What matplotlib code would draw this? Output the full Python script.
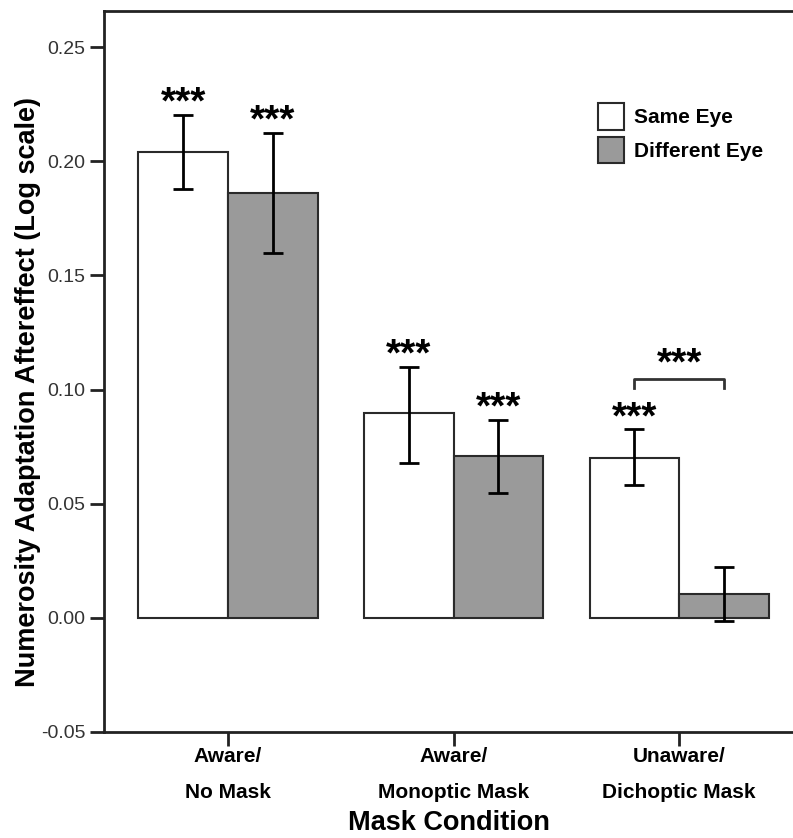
import matplotlib
matplotlib.use("Agg")
from matplotlib import pyplot as plt
from matplotlib.patches import Patch
import numpy as np

# data
conditions = ["Aware/\nNo Mask", "Aware/\nMonoptic Mask", "Unaware/\nDichoptic Mask"]
same_eye = [0.204, 0.0895, 0.0702]
same_lo = [0.1877, 0.0680, 0.0583]
same_hi = [0.2202, 0.1100, 0.0825]
diff_eye = [0.186, 0.0711, 0.0105]
diff_lo = [0.1597, 0.0548, -0.0013]
diff_hi = [0.2123, 0.0868, 0.0224]
same_stars = ["***", "***", "***"]
diff_stars = ["***", "***", ""]
y_ticks = [-0.05, 0.0, 0.05, 0.10, 0.15, 0.20, 0.25]
bracket_y = 0.1048

bold_font = ["Liberation Sans Narrow", "Liberation Sans", "DejaVu Sans"]
plain_font = ["Liberation Sans", "DejaVu Sans"]

fig = plt.figure(figsize=(7.93, 8.38), dpi=100, facecolor="white")
ax = fig.add_axes([0.1311, 0.1265, 0.8689, 0.8604])

x = np.arange(len(conditions))
w = 0.397
gray = "#9a9a9a"
edge = "#2a2a2a"

ax.bar(x - w / 2, same_eye, w, color="white", edgecolor=edge, linewidth=1.5, zorder=2)
ax.bar(x + w / 2, diff_eye, w, color=gray, edgecolor=edge, linewidth=1.5, zorder=2)

s = np.array(same_eye)
d = np.array(diff_eye)
ax.errorbar(x - w / 2, s, yerr=[s - np.array(same_lo), np.array(same_hi) - s],
            fmt="none", ecolor="black", elinewidth=2, capsize=7, capthick=2, zorder=3)
ax.errorbar(x + w / 2, d, yerr=[d - np.array(diff_lo), np.array(diff_hi) - d],
            fmt="none", ecolor="black", elinewidth=2, capsize=7, capthick=2, zorder=3)

star_kw = dict(ha="center", va="bottom", fontsize=28, fontweight="bold", family=plain_font)
for i in range(len(conditions)):
    ax.text(x[i] - w / 2, same_hi[i] - 0.003, same_stars[i], **star_kw)
    if diff_stars[i]:
        ax.text(x[i] + w / 2, diff_hi[i] - 0.003, diff_stars[i], **star_kw)

# significance bracket for the unaware condition
bx = [x[2] - w / 2, x[2] - w / 2, x[2] + w / 2, x[2] + w / 2]
by = [bracket_y - 0.004, bracket_y, bracket_y, bracket_y - 0.004]
ax.plot(bx, by, color="#333333", lw=2, zorder=3)
ax.text(x[2], bracket_y - 0.0015, "***", **star_kw)

ax.set_xlim(-0.55, 2.505)
ax.set_ylim(-0.05, 0.2658)
ax.set_yticks(y_ticks)
ax.set_yticklabels(["%.2f" % v for v in y_ticks], fontsize=14, family=plain_font, color="#333333")
ax.set_xticks(x)
ax.set_xticklabels(conditions, fontsize=15, fontweight="bold", family=bold_font,
                   linespacing=2.1)
ax.tick_params(axis="both", direction="out", length=10, width=2, color="#222222")
ax.tick_params(axis="x", pad=1)

for sp in ["left", "bottom", "top"]:
    ax.spines[sp].set_linewidth(2)
    ax.spines[sp].set_color("#222222")
ax.spines["right"].set_visible(False)

ax.set_ylabel("Numerosity Adaptation Aftereffect (Log scale)", fontsize=19.5,
              fontweight="bold", family=plain_font)
ax.yaxis.set_label_coords(-0.092, 0.4716)
ax.set_xlabel("Mask Condition", fontsize=19.5, fontweight="bold", family=plain_font)
ax.xaxis.set_label_coords(0.5, -0.108)

handles = [Patch(facecolor="white", edgecolor=edge, linewidth=1.5),
           Patch(facecolor=gray, edgecolor=edge, linewidth=1.5)]
leg = ax.legend(handles, ["Same Eye", "Different Eye"], loc="upper left",
                bbox_to_anchor=(0.69, 0.898), frameon=False,
                prop={"family": bold_font, "weight": "bold", "size": 15},
                handlelength=1.25, handleheight=1.6, handletextpad=0.45, labelspacing=0.32)

fig.savefig("out.png", dpi=100, facecolor="white")
